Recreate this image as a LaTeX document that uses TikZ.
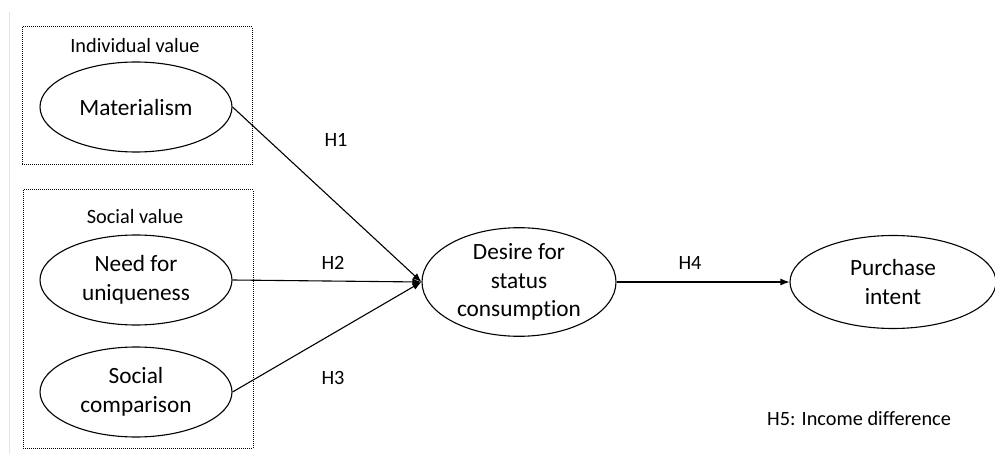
\documentclass[tikz,border=0pt]{standalone}
\usepackage{fontspec}
\setmainfont[Ligatures={NoCommon}]{Carlito}
\usetikzlibrary{shapes.geometric,arrows.meta}
\begin{document}
\begin{tikzpicture}[x=1pt,y=-1pt,
  construct/.style={draw,ellipse,line width=1.1pt,inner sep=0pt,minimum width=192pt,minimum height=90pt,align=center,font=\fontsize{23.3}{28.5}\selectfont},
  groupbox/.style={draw,line width=1pt,dash pattern=on 1pt off 1pt},
  lbl/.style={font=\fontsize{20.3}{24}\selectfont,inner sep=0pt},
  path/.style={line width=1.1pt,-{Latex[length=9pt,width=7pt]}}]
\useasboundingbox (0,0) rectangle (995,454);
\draw[gray!20,line width=1pt] (9,12) -- (9,454);
\draw[groupbox] (22,27) rectangle (252,165);
\draw[groupbox] (23,190) rectangle (253,448);
\node[lbl] (iv) at (135,46) {Individual value};
\node[lbl] (sv) at (135,217) {Social value};
\node[construct] (mat) at (136,107) {Materialism};
\node[construct] (nfu) at (136,280) {Need for\\uniqueness};
\node[construct] (sc) at (136,392) {Social\\comparison};
\node[construct,minimum width=194pt,minimum height=93pt] (dsc) at (519,282) {Desire for\\status\\consumption};
\node[construct,minimum width=206pt,minimum height=93pt] (pi) at (893,282) {Purchase\\intent};
\draw[path] (mat.east) -- (dsc.west);
\draw[path] (nfu.east) -- (dsc.west);
\draw[path] (sc.east) -- (dsc.west);
\draw[path] (dsc.east) -- (pi.west);
\node[lbl] (h1) at (336,140) {H1};
\node[lbl] (h2) at (333,263) {H2};
\node[lbl] (h3) at (333,378) {H3};
\node[lbl] (h4) at (690,263) {H4};
\node[lbl,anchor=west] (h5) at (767,419) {H5: Income difference};
\end{tikzpicture}
\end{document}
